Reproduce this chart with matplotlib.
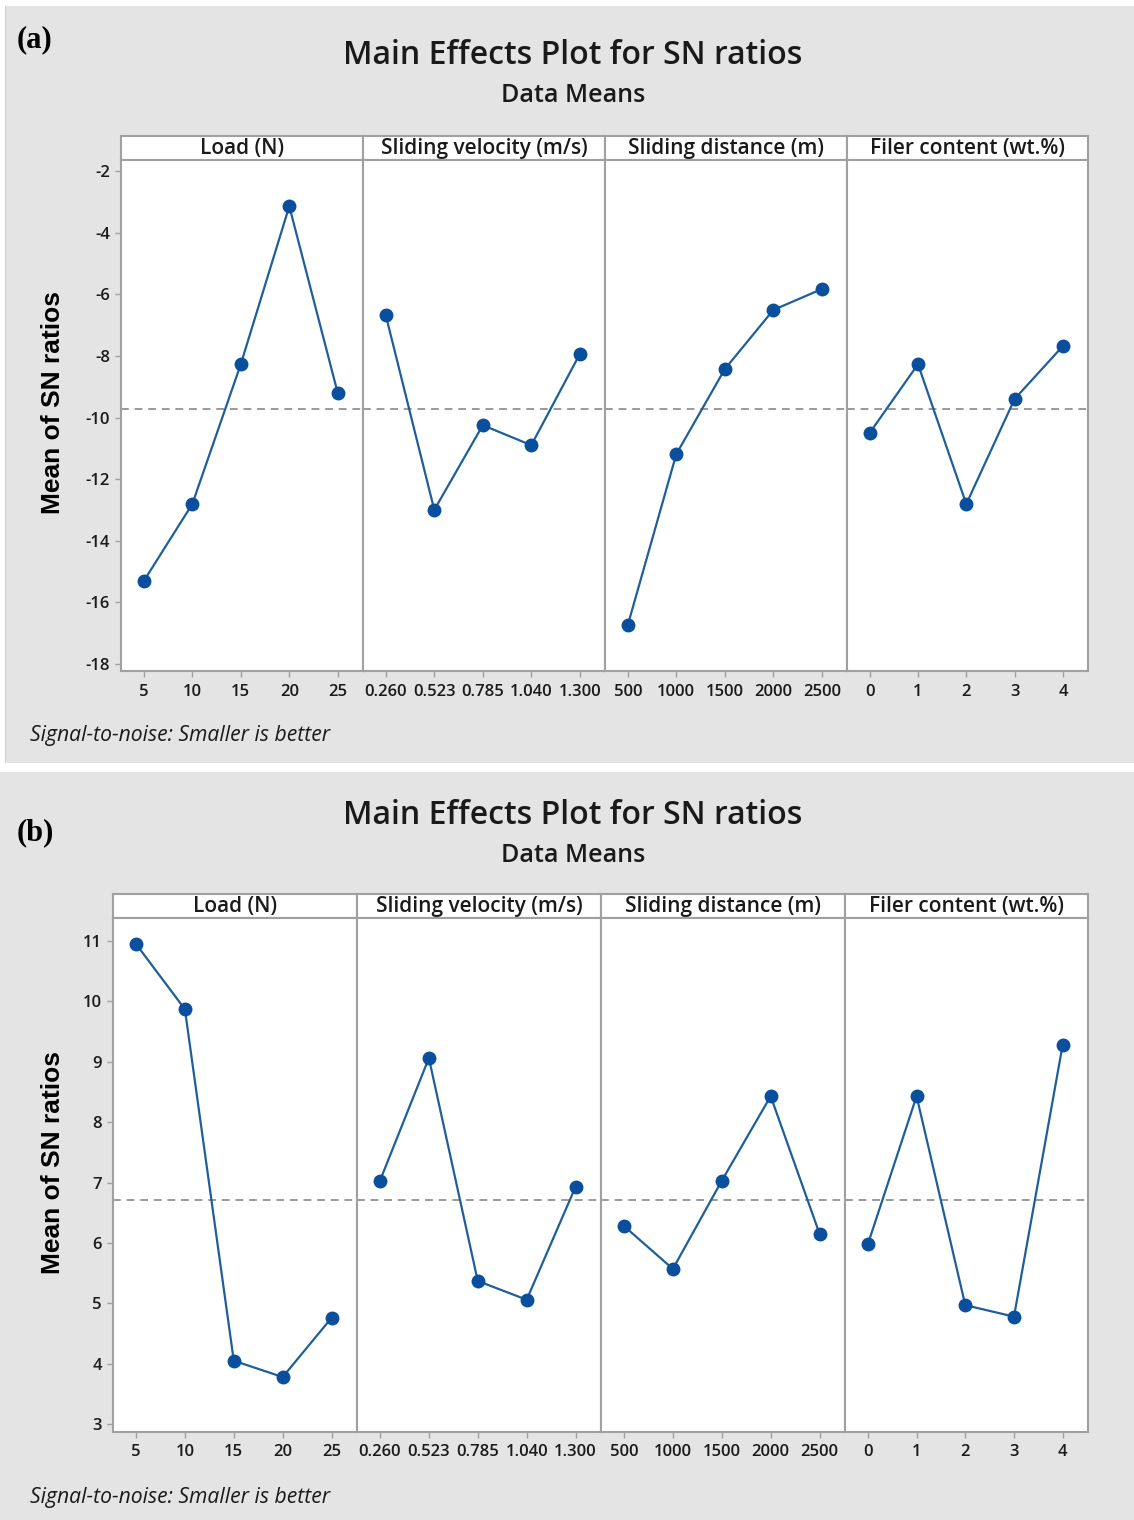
import matplotlib
matplotlib.use("Agg")
import matplotlib.pyplot as plt
from matplotlib.patches import Rectangle

# ---- data -------------------------------------------------------------
factors = ["Load (N)", "Sliding velocity (m/s)", "Sliding distance (m)", "Filer content (wt.%)"]
load_levels = ["5", "10", "15", "20", "25"]
velocity_levels = ["0.260", "0.523", "0.785", "1.040", "1.300"]
distance_levels = ["500", "1000", "1500", "2000", "2500"]
filler_levels = ["0", "1", "2", "3", "4"]

# (a) mean SN ratios per level
sn_a_load = [-15.31, -12.81, -8.27, -3.14, -9.21]
sn_a_velocity = [-6.68, -13.00, -10.25, -10.90, -7.94]
sn_a_distance = [-16.74, -11.19, -8.43, -6.51, -5.83]
sn_a_filler = [-10.50, -8.27, -12.81, -9.40, -7.68]
mean_a = -9.73
yticks_a = [-2, -4, -6, -8, -10, -12, -14, -16, -18]

# (b) mean SN ratios per level
sn_b_load = [10.95, 9.87, 4.05, 3.78, 4.76]
sn_b_velocity = [7.03, 9.06, 5.37, 5.06, 6.93]
sn_b_distance = [6.28, 5.57, 7.03, 8.43, 6.15]
sn_b_filler = [5.98, 8.43, 4.97, 4.78, 9.28]
mean_b = 6.71
yticks_b = [3, 4, 5, 6, 7, 8, 9, 10, 11]

# ---- layout helpers --------------------------------------------------
W, H = 1134, 1520
DPI = 100
fig = plt.figure(figsize=(W / DPI, H / DPI), dpi=DPI, facecolor="white")

BG = "#e4e4e4"
FRAME = "#a0a0a0"
BLUE = "#0a4f9e"
LINE = "#1f5f99"
TXT = "#1a1a1a"


def box(x0, y0, x1, y1):
    return [x0 / W, 1 - y1 / H, (x1 - x0) / W, (y1 - y0) / H]


def fig_xy(x, y):
    return x / W, 1 - y / H


# panel backgrounds
fig.patches.append(Rectangle(fig_xy(5, 763), (W - 5) / W, (763 - 6) / H,
                             transform=fig.transFigure, facecolor=BG,
                             edgecolor="none", zorder=-5))
fig.patches.append(Rectangle(fig_xy(0, H), 1, (H - 772) / H,
                             transform=fig.transFigure, facecolor=BG,
                             edgecolor="none", zorder=-5))
fig.patches.append(Rectangle(fig_xy(5, 763), 1.0 / W, (763 - 6) / H,
                             transform=fig.transFigure, facecolor="#cfcfcf",
                             edgecolor="none", zorder=-5))


def draw_panel(tag, tag_y, title_y, xedges, strip_top, strip_bot, plot_bot,
               series, levels, mean, yticks, ylim):
    # header texts
    x, y = fig_xy(17, tag_y)
    fig.text(x, y, tag, fontsize=22, fontweight="bold",
             family="Liberation Serif", color="black", va="center", ha="left")
    x, y = fig_xy(573, title_y)
    fig.text(x, y, "Main Effects Plot for SN ratios", fontsize=23,
             fontweight="semibold", family="Open Sans", color=TXT,
             ha="center", va="center")
    x, y = fig_xy(573, title_y + 41)
    fig.text(x, y, "Data Means", fontsize=18, fontweight="semibold",
             family="Open Sans", color=TXT, ha="center", va="center")

    for i in range(4):
        x0, x1 = xedges[i], xedges[i + 1]
        # strip with factor name
        sax = fig.add_axes(box(x0, strip_top, x1, strip_bot))
        sax.set_zorder(2)
        sax.set_xticks([])
        sax.set_yticks([])
        sax.set_facecolor("white")
        for sp in sax.spines.values():
            sp.set_color(FRAME)
            sp.set_linewidth(1.5)
        sax.text(0.5, 0.47, factors[i], transform=sax.transAxes,
                 ha="center", va="center", fontsize=15,
                 fontweight="semibold", family="Open Sans", color=TXT)

        ax = fig.add_axes(box(x0, strip_bot, x1, plot_bot))
        ax.set_zorder(2)
        xs = list(range(len(levels[i])))
        ax.axhline(mean, color="#9a9a9a", lw=1.4, ls=(0, (4, 3)), zorder=1)
        ax.plot(xs, series[i], color=LINE, lw=1.6, zorder=2)
        ax.plot(xs, series[i], "o", color=BLUE, ms=9, zorder=3)
        ax.set_xlim(-0.47, 4.52)
        ax.set_ylim(*ylim)
        ax.set_xticks(xs)
        ax.set_xticklabels(levels[i], fontsize=12, fontweight="semibold",
                           family="Open Sans", color=TXT)
        ax.tick_params(axis="x", length=4, width=1, color=FRAME, pad=5)
        ax.set_facecolor("white")
        for sp in ax.spines.values():
            sp.set_color(FRAME)
            sp.set_linewidth(1.5)
        if i == 0:
            ax.set_yticks(yticks)
            ax.set_yticklabels([str(t) for t in yticks], fontsize=12,
                               fontweight="semibold", family="Open Sans",
                               color=TXT)
            ax.tick_params(axis="y", length=4, width=1, color=FRAME, pad=4)
        else:
            ax.set_yticks([])

    x, y = fig_xy(53, (strip_bot + plot_bot) / 2 - 13)
    fig.text(x, y, "Mean of SN ratios", rotation=90, fontsize=19,
             fontweight="bold", family="Liberation Sans", color="black",
             ha="center", va="center")
    x, y = fig_xy(30, plot_bot + 65)
    fig.text(x, y, "Signal-to-noise: Smaller is better", fontsize=15.2,
             style="italic", family="Open Sans", color=TXT,
             ha="left", va="center")


levels_all = [load_levels, velocity_levels, distance_levels, filler_levels]

draw_panel("(a)", 40, 55, [121, 363, 605, 847, 1088], 136, 160, 671,
           [sn_a_load, sn_a_velocity, sn_a_distance, sn_a_filler],
           levels_all, mean_a, yticks_a, (-18.23, -1.64))

draw_panel("(b)", 833, 815, [113, 357, 601, 845, 1088], 894, 918, 1432,
           [sn_b_load, sn_b_velocity, sn_b_distance, sn_b_filler],
           levels_all, mean_b, yticks_b, (2.87, 11.38))

fig.savefig("out.png", dpi=DPI, facecolor="white")
